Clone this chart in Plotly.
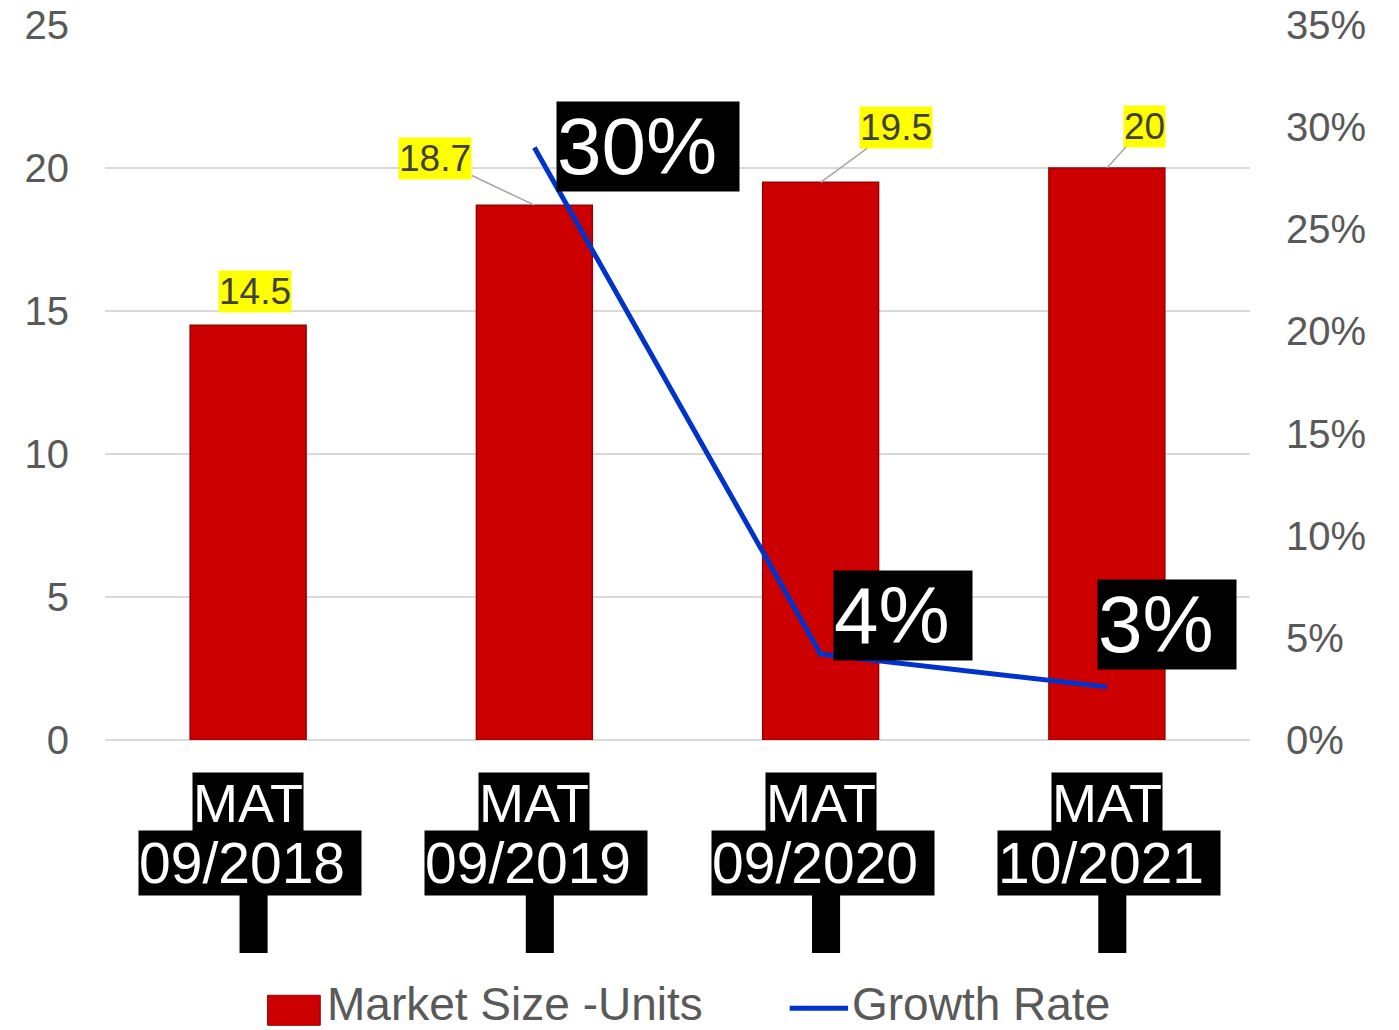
import plotly.graph_objects as go

periods = ["09/2018", "09/2019", "09/2020", "10/2021"]
prefix = "MAT"
market_size = [14.5, 18.7, 19.5, 20]
growth_periods = ["09/2019", "09/2020", "10/2021"]
growth_rate = [0.29, 0.042, 0.026]
growth_text = ["30%", "4%", "3%"]
size_name = "Market Size -Units"
growth_name = "Growth Rate"
left_ticks = [0, 5, 10, 15, 20, 25]
right_ticks = [0, 0.05, 0.10, 0.15, 0.20, 0.25, 0.30, 0.35]

FONT = "Liberation Sans, Arial, sans-serif"
NARROW = "Liberation Sans Narrow, Arial Narrow, sans-serif"
GRAY = "#595959"
RED = "#cc0000"
BLUE = "#0033cc"

fig = go.Figure()
fig.add_trace(go.Bar(x=periods, y=market_size, name=size_name,
                     marker=dict(color=RED, line=dict(color="#990000", width=1.5)),
                     width=0.405, showlegend=False))
fig.add_trace(go.Scatter(x=growth_periods, y=growth_rate, name=growth_name, yaxis="y2",
                         mode="lines", line=dict(color=BLUE, width=5), showlegend=False))

ann = []
# value labels (yellow)
label_offsets = [(7, None, None), (None, -99, -47), (None, 75, -55), (None, 38, -42)]
for p, v, (xs, ax, ay) in zip(periods, market_size, label_offsets):
    base = dict(x=p, y=v, xref="x", yref="y", text=f"{v:g}",
                font=dict(family=FONT, size=37, color="#404040"),
                bgcolor="#ffff00", borderpad=0)
    if ax is None:
        base.update(showarrow=False, yanchor="bottom", xshift=xs, yshift=12)
    else:
        base.update(showarrow=True, arrowhead=0, arrowwidth=1.5, arrowcolor="#a6a6a6",
                    ax=ax, ay=ay, axref="pixel", ayref="pixel")
    ann.append(base)

# growth labels
g_offsets = [(22, 1), (12, 39), (-10, 62)]
for p, v, t, (xs, ys) in zip(growth_periods, growth_rate, growth_text, g_offsets):
    ann.append(dict(x=p, y=v, xref="x", yref="y2", text=t + "\u00a0", showarrow=False,
                    xanchor="left", yanchor="middle", xshift=xs, yshift=ys,
                    font=dict(family=FONT, size=80, color="white"),
                    bgcolor="black", borderpad=0))

# category labels
shapes = []
for i, p in enumerate(periods):
    ann.append(dict(x=p, y=-0.088, xref="x", yref="paper", text=prefix, showarrow=False,
                    font=dict(family=FONT, size=54, color="white"), bgcolor="black",
                    borderpad=0, xanchor="center", yanchor="middle"))
    ann.append(dict(x=p, y=-0.172, xref="x", yref="paper", text=p + "\u00a0", showarrow=False,
                    font=dict(family=FONT, size=57, color="white"), bgcolor="black",
                    borderpad=0, xanchor="center", yanchor="middle", xshift=2))
    shapes.append(dict(type="rect", xref="x", yref="paper", x0=i - 0.03, x1=i + 0.068,
                       y0=-0.298, y1=-0.214, fillcolor="black", line=dict(width=0),
                       layer="above"))

# manual legend
shapes.append(dict(type="rect", xref="paper", yref="paper", x0=0.142, x1=0.188,
                   y0=-0.399, y1=-0.357, fillcolor=RED, line=dict(color="#990000", width=1)))
shapes.append(dict(type="line", xref="paper", yref="paper", x0=0.598, x1=0.649,
                   y0=-0.375, y1=-0.375, line=dict(color=BLUE, width=5)))
ann.append(dict(x=0.192, y=-0.369, xref="paper", yref="paper", text=size_name,
                showarrow=False, xanchor="left", yanchor="middle",
                font=dict(family=NARROW, size=46, color=GRAY)))
ann.append(dict(x=0.651, y=-0.369, xref="paper", yref="paper", text=growth_name,
                showarrow=False, xanchor="left", yanchor="middle",
                font=dict(family=NARROW, size=46, color=GRAY)))

fig.update_layout(
    width=1399, height=1030,
    margin=dict(l=105, r=149, t=25, b=290, autoexpand=False),
    plot_bgcolor="white", paper_bgcolor="white",
    bargap=0.595,
    xaxis=dict(type="category", range=[-0.5, 3.5], showticklabels=False,
               showgrid=False, zeroline=False, showline=False),
    yaxis=dict(range=[0, 25], tickvals=left_ticks, showgrid=True, gridcolor="#d9d9d9",
               gridwidth=1.5, zeroline=True, zerolinecolor="#d9d9d9", zerolinewidth=1.5,
               tickfont=dict(family=FONT, size=40, color=GRAY), ticklabelstandoff=35),
    yaxis2=dict(range=[0, 0.35], tickvals=right_ticks, tickformat=".0%", overlaying="y",
                side="right", showgrid=False, zeroline=False,
                tickfont=dict(family=FONT, size=40, color=GRAY), ticklabelstandoff=35),
    annotations=ann, shapes=shapes,
)

fig.write_html("out.html")
